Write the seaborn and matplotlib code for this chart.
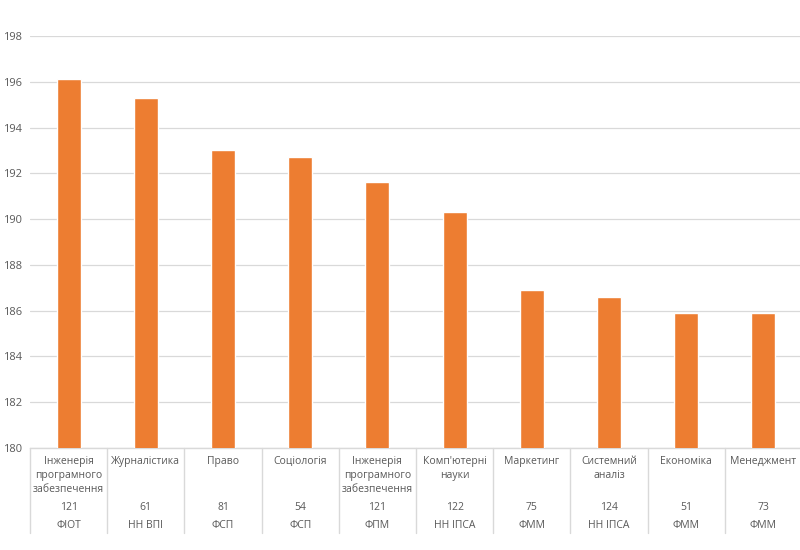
import pandas as pd
import matplotlib
matplotlib.use("Agg")
import matplotlib.pyplot as plt
import seaborn as sns

# data
specialties = ["Інженерія\nпрограмного\nзабезпечення", "Журналістика", "Право", "Соціологія",
               "Інженерія\nпрограмного\nзабезпечення", "Комп'ютерні\nнауки", "Маркетинг",
               "Системний\nаналіз", "Економіка", "Менеджмент"]
codes = ["121", "61", "81", "54", "121", "122", "75", "124", "51", "73"]
faculties = ["ФІОТ", "НН ВПІ", "ФСП", "ФСП", "ФПМ", "НН ІПСА", "ФММ", "НН ІПСА", "ФММ", "ФММ"]
scores = [196.1, 195.3, 193.0, 192.7, 191.6, 190.3, 186.9, 186.6, 185.9, 185.9]
y_ticks = [180, 182, 184, 186, 188, 190, 192, 194, 196, 198]

sns.set_theme(style="white")
plt.rcParams['font.family'] = ['Open Sans', 'DejaVu Sans']

df = pd.DataFrame({"pos": [str(i) for i in range(len(scores))], "score": scores})

fig = plt.figure(figsize=(8, 5.5), dpi=100)
ax = fig.add_axes([30 / 800, 102 / 550, 772 / 800, 412 / 550])

sns.barplot(data=df, x="pos", y="score", color="#ED7D31", width=0.31,
            saturation=1, ax=ax, zorder=3)

ax.set_ylim(180, 198)
ax.set_yticks(y_ticks)
ax.set_xlim(-0.5, len(scores) - 0.5)
ax.yaxis.grid(True, color="#D9D9D9", linewidth=0.9, zorder=0)
ax.tick_params(axis="y", labelsize=8, labelcolor="#595959", length=0, pad=6)
ax.set_xticks([])
ax.set_xlabel("")
ax.set_ylabel("")
for side in ["top", "right", "left"]:
    ax.spines[side].set_visible(False)
ax.spines["bottom"].set_color("#D9D9D9")
ax.spines["bottom"].set_linewidth(1)

# multi-level category axis
ah = 412.0
tr = ax.get_xaxis_transform()
for i in range(len(scores) + 1):
    ax.plot([i - 0.5, i - 0.5], [0, -85 / ah], transform=tr, color="#D9D9D9",
            linewidth=1, clip_on=False)
for i, (name, code, fac) in enumerate(zip(specialties, codes, faculties)):
    ax.text(i, -8 / ah, name, transform=tr, ha="center", va="top", fontsize=7.5,
            color="#595959", linespacing=1.4)
    ax.text(i, -59 / ah, code, transform=tr, ha="center", va="center", fontsize=7.5,
            color="#595959")
    ax.text(i, -78 / ah, fac, transform=tr, ha="center", va="center", fontsize=7.5,
            color="#595959")

fig.savefig("out.png", dpi=100)
